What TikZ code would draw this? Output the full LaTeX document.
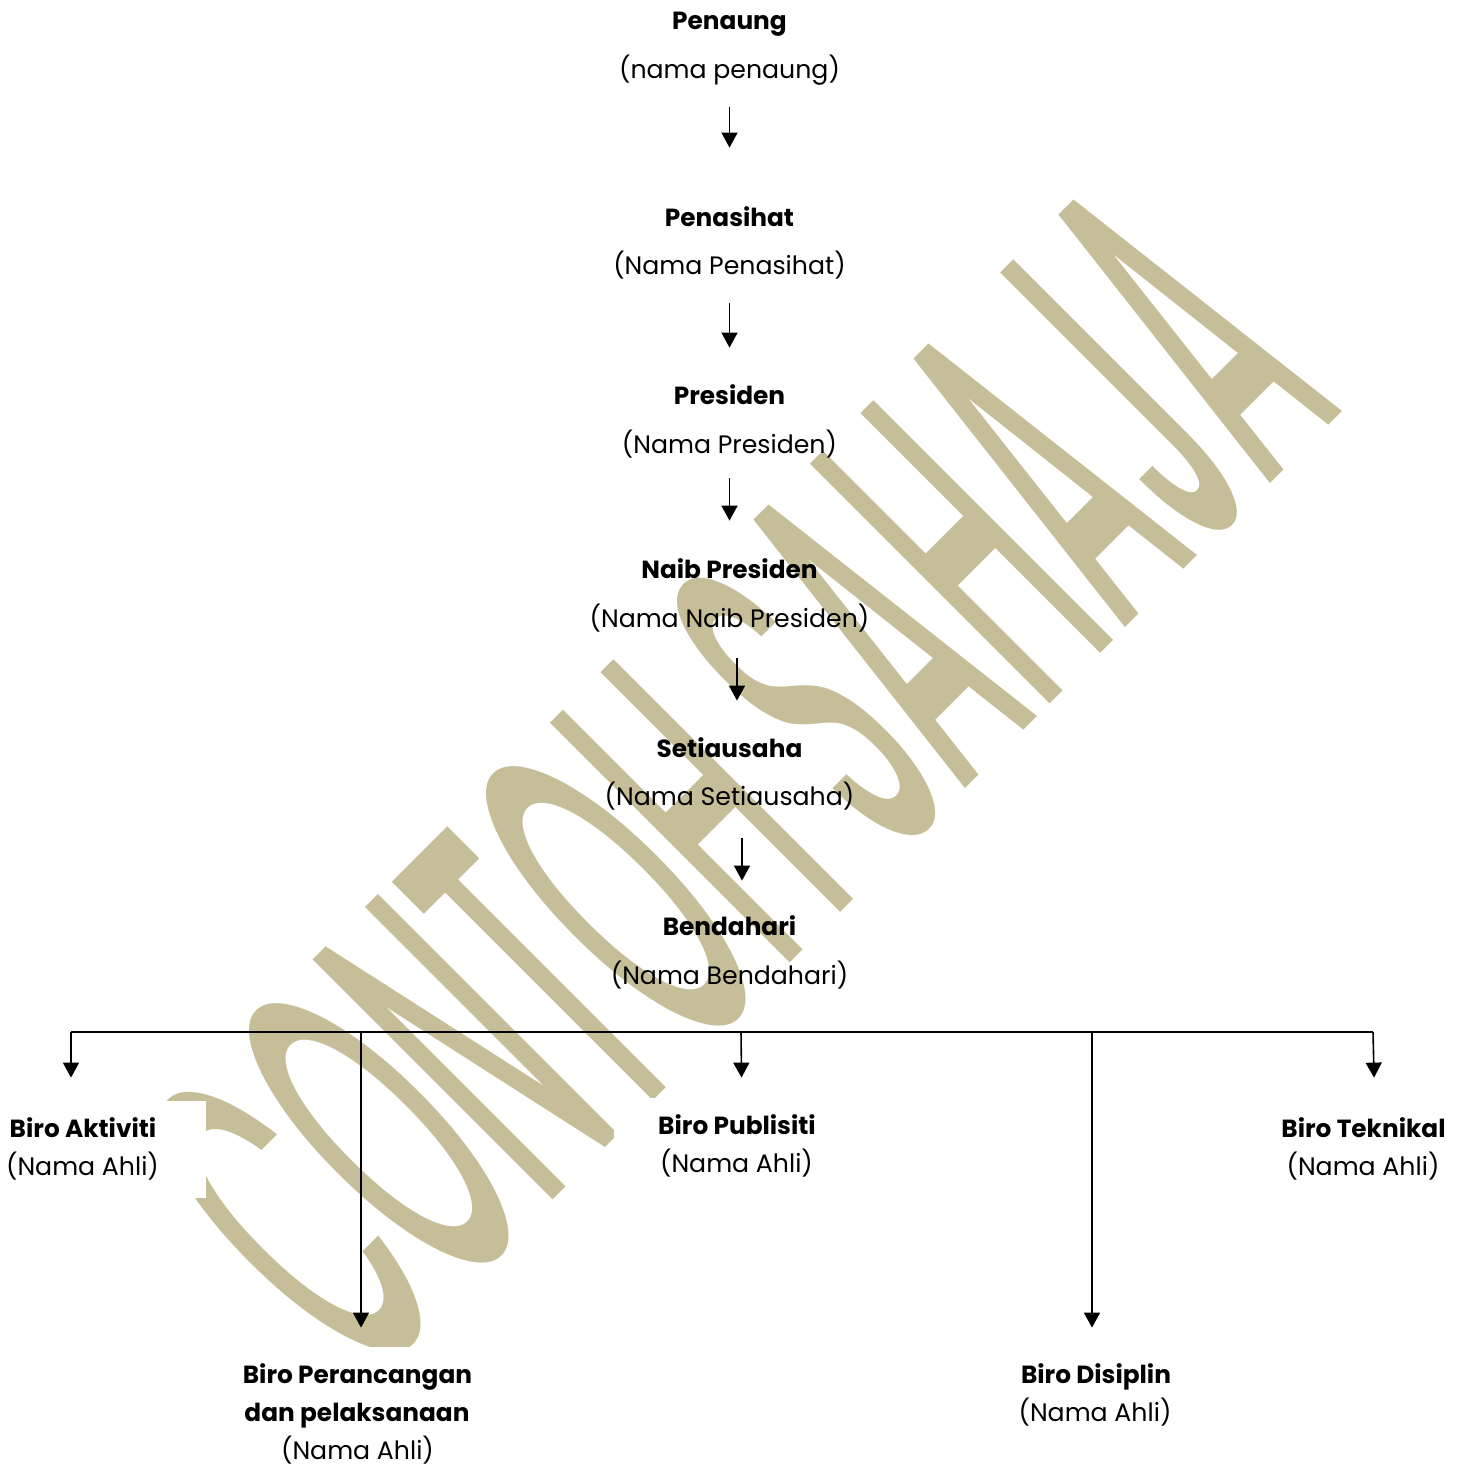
\documentclass[tikz,border=0pt]{standalone}
\usepackage{fontspec}
\usepackage{graphicx}
\setmainfont{Poppins}
\newfontfamily\wmfont{Poppins Medium}
\usetikzlibrary{arrows.meta}
\definecolor{wmc}{RGB}{198,190,152}
\tikzset{
  txt/.style={inner sep=0pt, text height=10pt, text depth=1.5pt, font=\fontsize{12.6}{14}\selectfont},
  ttl/.style={txt, font=\fontsize{12.4}{14}\selectfont\bfseries},
  arr/.style={-{Triangle[width=8pt,length=7.5pt]}, line width=0.8pt},
  ln/.style={line width=0.8pt},
  wbox/.style={fill=white, draw=none}
}
\begin{document}
\begin{tikzpicture}[x=0.5pt,y=-0.5pt]
\useasboundingbox (0,0) rectangle (1462,1466);
\fill[white] (0,0) rectangle (1462,1466);
% watermark
\node[rotate=45, inner sep=0pt, text=wmc] (wm) at (736,777)
  {\resizebox{692.5pt}{171.5pt}{\wmfont CONTOH SAHAJA}};
% white text boxes over watermark
\fill[wbox] (0,1101) rectangle (206,1198);
\fill[wbox] (614,1098) rectangle (870,1190);
\fill[wbox] (235,1347) rectangle (480,1466);
% top chain
\node[ttl] (t1) at (729.5,21) {Penaung};
\node[txt] (n1) at (729.5,70) {(nama penaung)};
\node[ttl] (t2) at (729.5,218) {Penasihat};
\node[txt] (n2) at (729.5,266) {(Nama Penasihat)};
\node[ttl] (t3) at (729.5,396) {Presiden};
\node[txt] (n3) at (729.5,445) {(Nama Presiden)};
\node[ttl] (t4) at (729.5,570) {Naib Presiden};
\node[txt] (n4) at (729.5,619) {(Nama Naib Presiden)};
\node[ttl] (t5) at (729.5,749) {Setiausaha};
\node[txt] (n5) at (729.5,797) {(Nama Setiausaha)};
\node[ttl] (t6) at (729.5,927) {Bendahari};
\node[txt] (n6) at (729.5,976) {(Nama Bendahari)};
\draw[arr, shorten <=12.75pt, shorten >=29.25pt] (n1.south) -- (t2.north);
\draw[arr, shorten <=12.75pt, shorten >=18.25pt] (n2.south) -- (t3.north);
\draw[arr, shorten <=10.75pt, shorten >=18.75pt] (n3.south) -- (t4.north);
\draw[arr, shorten <=13.75pt, shorten >=18.25pt] ([xshift=3.75pt]n4.south) -- ([xshift=3.75pt]t5.north);
\draw[arr, shorten <=14.75pt, shorten >=17.25pt] ([xshift=6.25pt]n5.south) -- ([xshift=6.25pt]t6.north);
% bottom boxes
\node[ttl] (bA) at (83,1129) {Biro Aktiviti};
\node[txt] (bAn) at (82.5,1167) {(Nama Ahli)};
\node[ttl] (bPu) at (737,1126) {Biro Publisiti};
\node[txt] (bPun) at (736.5,1164) {(Nama Ahli)};
\node[ttl] (bT) at (1363.5,1129) {Biro Teknikal};
\node[txt] (bTn) at (1363,1167) {(Nama Ahli)};
\node[ttl] (bPr) at (357.5,1375) {Biro Perancangan};
\node[ttl] (bPr2) at (357,1413) {dan pelaksanaan};
\node[txt] (bPrn) at (357.5,1451) {(Nama Ahli)};
\node[ttl] (bD) at (1096,1375) {Biro Disiplin};
\node[txt] (bDn) at (1095,1413) {(Nama Ahli)};
% bus and drops
\coordinate (cA) at (71,1032);
\coordinate (cPr) at (361,1032);
\coordinate (cPu) at (741,1032);
\coordinate (cD) at (1092,1032);
\coordinate (cT) at (1373,1032);
\draw[ln] (cA) -- (cT);
\draw[arr, shorten >=19.75pt] (cA) -- (cA |- bA.north);
\draw[arr, shorten >=17.75pt] (cPr) -- (cPr |- bPr.north);
\draw[arr, shorten >=18.25pt] (cPu) -- ([xshift=0.5pt]cPu |- bPu.north);
\draw[arr, shorten >=17.75pt] (cD) -- (cD |- bD.north);
\draw[arr, shorten >=19.75pt] (cT) -- ([xshift=1pt]cT |- bT.north);
\end{tikzpicture}
\end{document}
